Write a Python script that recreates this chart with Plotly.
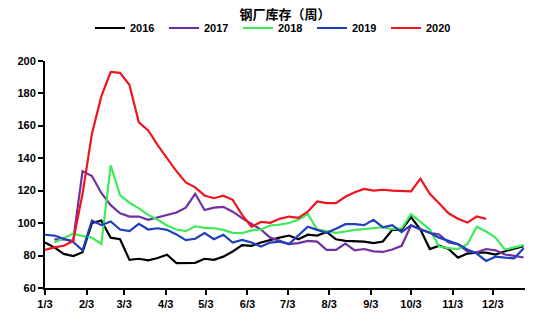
import plotly.graph_objects as go

tick_days = [0, 31, 59, 90, 120, 151, 181, 212, 243, 273, 304, 334]
tick_labels = ["1/3", "2/3", "3/3", "4/3", "5/3", "6/3", "7/3", "8/3", "9/3", "10/3", "11/3", "12/3"]

y2016 = [88, 85, 81, 79.7, 82, 100, 101.5, 91, 90, 77.3, 78, 77, 78.5, 80.5, 75.3, 75.5, 75.5, 78, 77.3, 79.3,
         82.5, 86.4, 86, 88, 89.6, 91, 92.3, 90, 92.8, 92.3, 94.5, 90, 89, 88.6, 88.6, 87.6, 88.6, 95.8, 95.8, 103.6,
         96, 84, 86, 84, 78.7, 81.2, 81.8, 81.8, 80.6, 82.6, 84, 85.7]
y2017 = [None, 90, 90, 89, 132, 129, 118.5, 111, 106, 104, 104, 102, 103.5, 105, 106.5, 109.5, 118, 108, 109.5, 110,
         107, 103, 99.5, 96, 91, 89, 87, 87.6, 89, 88.6, 83.5, 83.5, 87.4, 83.2, 84, 82.6, 82.2, 83.7, 86, 98.5,
         96, 94, 93, 88, 87, 82.5, 82, 84, 83.2, 80.6, 79.8, 78.8]
y2018 = [None, 88, 90.5, 93.5, 92, 91, 87, 135.5, 117, 112.5, 109, 105, 102, 98.5, 96, 95, 98, 97, 96.8, 95.8,
         94, 93.8, 95.5, 96, 98.5, 99, 100, 102, 105.5, 96, 95, 94, 94.8, 95.8, 96.2, 96.8, 97.4, 96.2, 96.8, 105.5,
         101, 96, 85.5, 84.5, 84, 87, 97.7, 94.8, 91, 83.7, 85, 86.4]
y2019 = [92.8, 92.3, 90.3, 88.4, 83.2, 101.6, 98.7, 101, 96, 95, 99.5, 96, 96.8, 95.8, 93, 89.5, 90.3, 93.8, 90, 92.8,
         88, 89.6, 88, 85.5, 88, 88.5, 87, 92.5, 97.7, 95.8, 94, 96.5, 99.3, 99.3, 98.7, 102, 97.4, 98.7, 94.4, 98.7,
         96, 94, 91, 89, 87, 83.7, 81.2, 76.7, 79.3, 78.7, 78.3, 84.5]
y2020 = [83.5, 85, 86, 89, 118, 155, 178, 193, 192.5, 185, 162, 157, 148, 140, 132, 125, 122, 117, 115.3, 116.8,
         114.3, 105, 97.7, 100.7, 100.1, 102.6, 104, 103.2, 107, 113.3, 112.3, 112.3, 116.2, 119, 121, 120, 120.5, 120, 119.7, 119.5,
         127.3, 118, 112, 106, 102.6, 100.3, 104, 102.6]

series = [("2016", y2016, "#000000"), ("2017", y2017, "#7030A0"), ("2018", y2018, "#3DEB5A"),
          ("2019", y2019, "#1F3FBF"), ("2020", y2020, "#F0141E")]

fig = go.Figure()
for name, ys, color in series:
    xs = [7 * i for i in range(len(ys))]
    fig.add_trace(go.Scatter(x=xs, y=ys, name=name, mode="lines",
                             line=dict(color=color, width=2.2), connectgaps=False))

font_b = dict(family="Liberation Sans, Arial", size=11, color="#000000", weight="bold")

fig.update_layout(
    width=550, height=327,
    margin=dict(l=45, r=25, t=48, b=39),
    paper_bgcolor="white", plot_bgcolor="white",
    title=dict(text="钢厂库存（周）", x=0.5, xref="paper", xanchor="center",
               y=1 - 14 / 327, yref="container", yanchor="middle",
               font=dict(family="Noto Sans CJK SC", size=13, color="#000000", weight="bold")),
    legend=dict(orientation="h", xref="container", yref="container", x=90 / 550, xanchor="left",
                y=1 - 28 / 327, yanchor="middle", font=font_b, entrywidth=29, entrywidthmode="pixels",
                itemwidth=30, bgcolor="rgba(0,0,0,0)", tracegroupgap=0),
    showlegend=True,
)
fig.update_xaxes(range=[0, 358], tickmode="array", tickvals=tick_days, ticktext=tick_labels,
                 showgrid=False, zeroline=False, showline=True, linecolor="#000000", linewidth=2,
                 ticks="outside", ticklen=5, tickwidth=1.5, tickcolor="#000000", tickfont=font_b)
fig.update_yaxes(range=[60, 200], dtick=20, showgrid=False, zeroline=False, showline=True,
                 linecolor="#000000", linewidth=2, ticks="outside", ticklen=5, tickwidth=1.5,
                 tickcolor="#000000", tickfont=font_b)

fig.write_html("out.html")
